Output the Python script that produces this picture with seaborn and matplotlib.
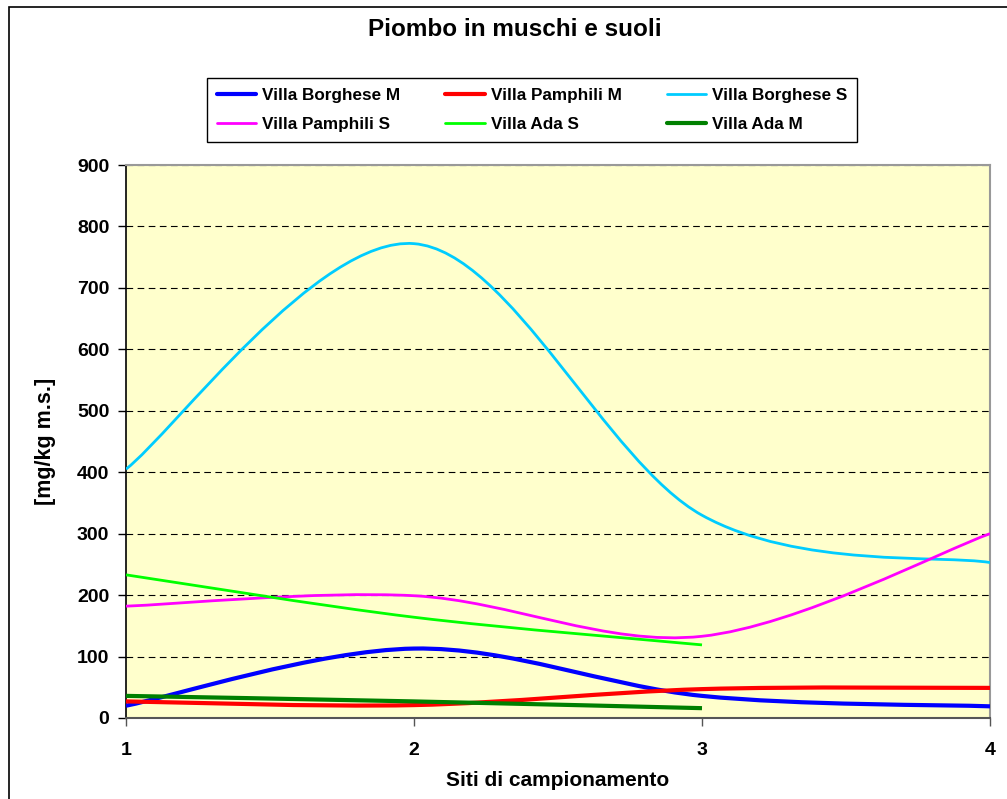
import matplotlib
matplotlib.use("Agg")
import matplotlib.pyplot as plt
from matplotlib.path import Path
from matplotlib.patches import PathPatch, Rectangle
from matplotlib.lines import Line2D
import seaborn as sns

# Sampling sites and lead concentrations [mg/kg dry matter]
siti = [1, 2, 3, 4]
borghese_m = [20, 113, 36, 19]
pamphili_m = [27, 21, 47, 49]
borghese_s = [405, 772, 330, 253]
pamphili_s = [182, 199, 133, 300]
ada_s = [233, 164, 119]
ada_m = [36, 27, 16]

serie = [
    ("Villa Borghese M", borghese_m, "#0000FF", 3.0),
    ("Villa Pamphili M", pamphili_m, "#FF0000", 3.0),
    ("Villa Borghese S", borghese_s, "#00CCFF", 2.0),
    ("Villa Pamphili S", pamphili_s, "#FF00FF", 2.0),
    ("Villa Ada S", ada_s, "#00FF00", 2.0),
    ("Villa Ada M", ada_m, "#008000", 3.0),
]

sns.set_theme(style="white")
plt.rcParams["font.family"] = ["Liberation Sans", "DejaVu Sans"]
plt.rcParams["font.weight"] = "bold"
for k in ["text.color", "axes.labelcolor", "xtick.labelcolor", "ytick.labelcolor"]:
    plt.rcParams[k] = "black"


def smooth_path(xs, ys):
    """Cubic Bezier path through the points (spreadsheet-style smoothed line)."""
    pts = list(zip(xs, ys))
    n = len(pts)
    verts = [pts[0]]
    codes = [Path.MOVETO]
    for i in range(n - 1):
        p0 = pts[i - 1] if i > 0 else pts[i]
        p1 = pts[i]
        p2 = pts[i + 1]
        p3 = pts[i + 2] if i + 2 < n else pts[i + 1]
        c1 = (p1[0] + (p2[0] - p0[0]) / 6, p1[1] + (p2[1] - p0[1]) / 6)
        c2 = (p2[0] - (p3[0] - p1[0]) / 6, p2[1] - (p3[1] - p1[1]) / 6)
        verts += [c1, c2, p2]
        codes += [Path.CURVE4] * 3
    return Path(verts, codes)


fig = plt.figure(figsize=(10.07, 7.99), dpi=100)
fig.patch.set_facecolor("white")

# outer chart frame
fig.patches.append(Rectangle((9 / 1007, -0.1), 1.2, 1.1 - 7 / 799,
                             transform=fig.transFigure, fill=False,
                             edgecolor="black", linewidth=1.2, zorder=0))

ax = fig.add_axes([126 / 1007, 81 / 799, 864 / 1007, 553 / 799])
ax.set_facecolor("#FFFFCC")

handles = []
for nome, valori, colore, lw in serie:
    xs = siti[:len(valori)]
    patch = PathPatch(smooth_path(xs, valori), fill=False, edgecolor=colore,
                      linewidth=lw, capstyle="butt", joinstyle="round", zorder=3)
    ax.add_patch(patch)
    handles.append(Line2D([], [], color=colore, linewidth=lw, label=nome))

ax.set_xlim(1, 4)
ax.set_ylim(0, 900)
ax.set_xticks(siti)
ax.set_yticks(range(0, 901, 100))

ax.set_axisbelow(True)
ax.yaxis.grid(True, linestyle=(0, (6, 4)), color="black", linewidth=0.8)
ax.xaxis.grid(False)

for s in ["top", "right"]:
    ax.spines[s].set_color("#999999")
    ax.spines[s].set_linewidth(1.5)
ax.spines["left"].set_color("black")
ax.spines["bottom"].set_color("#555555")
ax.spines["left"].set_linewidth(1.2)
ax.spines["bottom"].set_linewidth(1.5)

ax.tick_params(axis="y", left=True, direction="out", length=5.5, width=1,
               color="black", labelcolor="black", pad=6.5, labelsize=14)
ax.tick_params(axis="x", bottom=True, direction="out", length=5.5, width=1,
               color="#555555", labelcolor="black", pad=12, labelsize=14)
for lab in ax.get_xticklabels() + ax.get_yticklabels():
    lab.set_fontweight("bold")

ax.set_xlabel("Siti di campionamento", fontsize=15, fontweight="bold", color="black")
ax.xaxis.set_label_coords(0.5, (718 - 780) / 553)
ax.xaxis.label.set_va("center")
ax.set_ylabel("[mg/kg m.s.]", fontsize=15.5, fontweight="bold", color="black")
ax.yaxis.set_label_coords((45 - 126) / 864, 0.5)
ax.yaxis.label.set_va("center")

fig.text(515 / 1007, 1 - 30 / 799, "Piombo in muschi e suoli", color="black",
         ha="center", va="center", fontsize=17.5, fontweight="bold")

# legend filled row by row (3 columns)
ordine = [0, 3, 1, 4, 2, 5]
leg = fig.legend([handles[i] for i in ordine],
                 [handles[i].get_label() for i in ordine],
                 ncol=3, loc="center", bbox_to_anchor=(532 / 1007, 1 - 110 / 799),
                 fontsize=12.3, handlelength=2.3, handletextpad=0.35,
                 columnspacing=2.65, labelspacing=0.85, borderpad=0.55,
                 borderaxespad=0, frameon=True, fancybox=False, shadow=False)
leg.get_frame().set_edgecolor("black")
leg.get_frame().set_linewidth(1.0)
leg.get_frame().set_alpha(1)
for t in leg.get_texts():
    t.set_fontweight("bold")
    t.set_color("black")

fig.savefig("out.png", dpi=100)
